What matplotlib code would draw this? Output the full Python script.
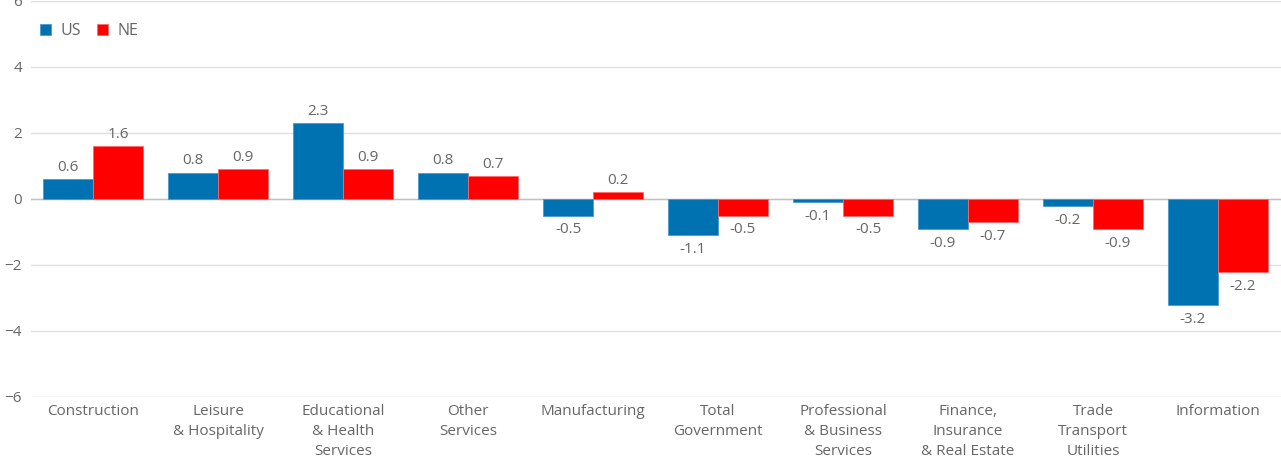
import numpy as np
import matplotlib.pyplot as plt

plt.rcParams['font.family'] = ['Open Sans', 'DejaVu Sans']

# employment change by sector, percent
sectors = ["Construction", "Leisure\n& Hospitality", "Educational\n& Health\nServices",
           "Other\nServices", "Manufacturing", "Total\nGovernment",
           "Professional\n& Business\nServices", "Finance,\nInsurance\n& Real Estate",
           "Trade\nTransport\nUtilities", "Information"]
us_vals = [0.6, 0.8, 2.3, 0.8, -0.5, -1.1, -0.1, -0.9, -0.2, -3.2]
ne_vals = [1.6, 0.9, 0.9, 0.7, 0.2, -0.5, -0.5, -0.7, -0.9, -2.2]
y_ticks = [-6, -4, -2, 0, 2, 4, 6]

US_COLOR = "#0072b2"
NE_COLOR = "#ff0000"
TEXT = "#666666"

fig = plt.figure(figsize=(12.81, 4.58), dpi=100)
ax = fig.add_axes([30.5 / 1281, 61 / 458, 1250 / 1281, 396 / 458])

x = np.arange(len(sectors))
w = 0.4
b_us = ax.bar(x - w / 2, us_vals, w, color=US_COLOR, edgecolor="#4a9ad0", linewidth=0.6, label="US", zorder=3)
b_ne = ax.bar(x + w / 2, ne_vals, w, color=NE_COLOR, edgecolor="#ff6a6a", linewidth=0.6, label="NE", zorder=3)

for bars, vals in ((b_us, us_vals), (b_ne, ne_vals)):
    for rect, v in zip(bars, vals):
        cx = rect.get_x() + rect.get_width() / 2
        if v >= 0:
            ax.annotate(f"{v:.1f}", (cx, v), xytext=(0, 3), textcoords="offset points",
                        ha="center", va="bottom", fontsize=11, color=TEXT)
        else:
            ax.annotate(f"{v:.1f}", (cx, v), xytext=(0, -5), textcoords="offset points",
                        ha="center", va="top", fontsize=11, color=TEXT)

ax.set_xlim(-0.5, len(sectors) - 0.5)
ax.set_ylim(-6, 6)
ax.set_yticks(y_ticks)
ax.set_yticklabels([f"\u2212{abs(t)}" if t < 0 else str(t) for t in y_ticks])
ax.set_xticks(x)
ax.set_xticklabels(sectors, linespacing=1.45)
ax.tick_params(axis="both", length=0, labelsize=11, labelcolor=TEXT)
ax.tick_params(axis="y", pad=6)
ax.tick_params(axis="x", pad=5)

ax.grid(axis="y", color="#e0e0e0", linewidth=1, zorder=0)
ax.axhline(0, color="#c0c0c0", linewidth=1, zorder=2)
for s in ax.spines.values():
    s.set_visible(False)

leg = ax.legend(loc="upper left", bbox_to_anchor=(-0.004, 0.98), ncol=2, frameon=False,
                fontsize=11.5, handlelength=0.7, handleheight=0.7, handletextpad=0.6,
                columnspacing=1.0, labelcolor=TEXT)

fig.savefig("out.png", dpi=100)
